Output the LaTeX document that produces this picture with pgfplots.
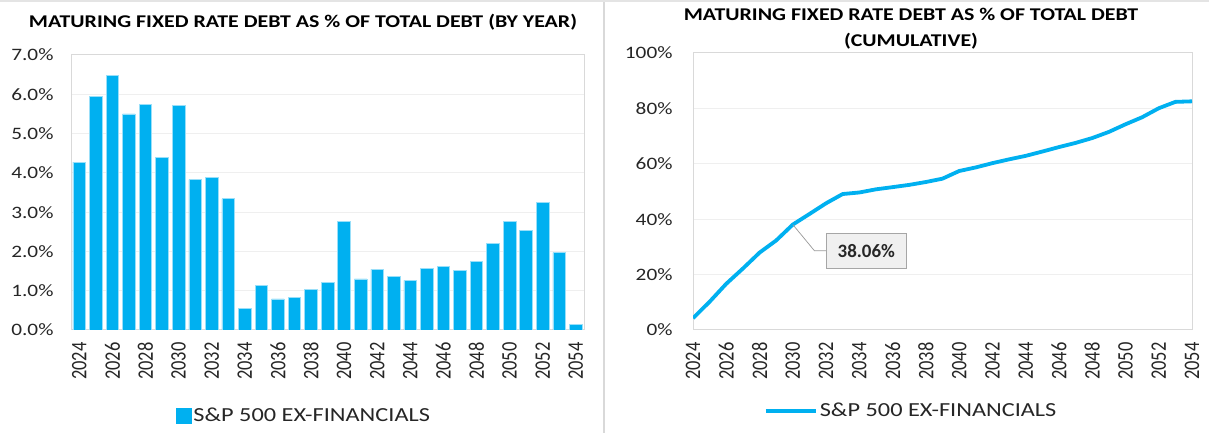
\documentclass[border=0pt]{standalone}
\usepackage{fontspec}
\setmainfont{Carlito}[FakeStretch=1.22]
\newfontfamily\plainfont{Carlito}
\usepackage{graphicx}
\usepackage{pgfplots}
\pgfplotsset{compat=1.18}
\definecolor{barblue}{HTML}{00B0F0}
\definecolor{gridgray}{HTML}{EFEFEF}
\definecolor{framegray}{HTML}{D9D9D9}
\definecolor{txt}{HTML}{262626}
\pgfplotsset{
  common/.style={
    scale only axis,
    /pgf/number format/assume math mode=true,
    /pgf/number format/1000 sep={},
    axis line style={framegray, line width=1bp},
    major grid style={gridgray, line width=1bp},
    ymajorgrids,
    major tick length=0pt,
    yticklabel style={font=\fontsize{17.5}{20}\selectfont, text=txt},
    xticklabel style={rotate=90, anchor=east, text=txt},
    xticklabel={\scalebox{1}[1.2]{\plainfont\fontsize{18.5}{20}\selectfont\pgfmathprintnumber{\tick}}},
    xticklabel shift=9bp,
    legend style={draw=none, fill=none, font=\fontsize{20}{22}\selectfont, text=txt, anchor=center},
  }
}
\begin{document}
\begin{tikzpicture}[x=1bp,y=1bp]
\path[use as bounding box] (0,0) rectangle (1209,433);
\fill[white] (0,0) rectangle (1209,433);
\fill[framegray!70] (0,431) rectangle (1209,433);
\draw[framegray, line width=1.5bp] (604,0) -- (604,431);
\node[font=\bfseries\fontsize{18}{20}\selectfont, text=black] at (303,411) {MATURING FIXED RATE DEBT AS \% OF TOTAL DEBT (BY YEAR)};
\node[align=center, font=\bfseries\fontsize{18}{26}\selectfont, text=black] at (911,404) {MATURING FIXED RATE DEBT AS \% OF TOTAL DEBT\\(CUMULATIVE)};

\begin{axis}[common,
  at={(71bp,103bp)}, anchor=south west,
  width=513bp, height=275bp,
  xmin=2023.5, xmax=2054.5, ymin=0, ymax=7,
  ytick={0,1,2,3,4,5,6,7},
  xtick={2024,2026,...,2054},
  yticklabel={\pgfmathprintnumber[fixed,fixed zerofill,precision=1]{\tick}\%},
  yticklabel shift=14bp,
  legend style={at={(0.454,-0.312)}},
]
\addplot[ybar, bar width=12.6bp, fill=barblue, draw=barblue!40, line width=0.6bp,
  legend image code/.code={\fill[barblue] (0bp,-7.5bp) rectangle (15bp,7.5bp);}]
coordinates {
(2024,4.27) (2025,5.94) (2026,6.48) (2027,5.50) (2028,5.74) (2029,4.39) (2030,5.72)
(2031,3.83) (2032,3.88) (2033,3.34) (2034,0.55) (2035,1.14) (2036,0.79) (2037,0.82)
(2038,1.03) (2039,1.21) (2040,2.76) (2041,1.30) (2042,1.54) (2043,1.37) (2044,1.26)
(2045,1.56) (2046,1.61) (2047,1.51) (2048,1.75) (2049,2.21) (2050,2.76) (2051,2.54)
(2052,3.25) (2053,1.97) (2054,0.14)
};
\addlegendentry{S\&P 500 EX-FINANCIALS}
\end{axis}

\begin{axis}[common,
  at={(693bp,103bp)}, anchor=south west,
  width=499bp, height=277bp,
  xmin=2024, xmax=2054, ymin=0, ymax=100,
  ytick={0,20,...,100},
  xtick={2024,2026,...,2054},
  yticklabel={\pgfmathprintnumber{\tick}\%},
  yticklabel shift=17bp,
  legend style={at={(0.437,-0.292)}},
]
\addplot[barblue, line width=3.8bp, line join=round,
  legend image code/.code={\draw[barblue, line width=4bp] (0bp,0bp) -- (50bp,0bp);}]
coordinates {
(2024,4.27) (2025,10.21) (2026,16.69) (2027,22.19) (2028,27.93) (2029,32.32) (2030,38.06)
(2031,41.87) (2032,45.75) (2033,49.09) (2034,49.64) (2035,50.78) (2036,51.57) (2037,52.39)
(2038,53.42) (2039,54.63) (2040,57.39) (2041,58.69) (2042,60.23) (2043,61.60) (2044,62.86)
(2045,64.42) (2046,66.03) (2047,67.54) (2048,69.29) (2049,71.50) (2050,74.26) (2051,76.80)
(2052,80.05) (2053,82.35) (2054,82.55)
};
\addlegendentry{S\&P 500 EX-FINANCIALS}
\draw[gray!80, line width=0.7bp] (axis cs:2030,38.06) -- (axis cs:2031.3,28.6) -- (axis cs:2032,28.6);
\node[draw=gray!70, fill=gray!12, font=\bfseries\plainfont\fontsize{19}{20}\selectfont, text=txt,
  minimum width=80bp, minimum height=35bp, anchor=west, inner sep=2bp] at (axis cs:2032,28.6) {38.06\%};
\end{axis}
\end{tikzpicture}
\end{document}
